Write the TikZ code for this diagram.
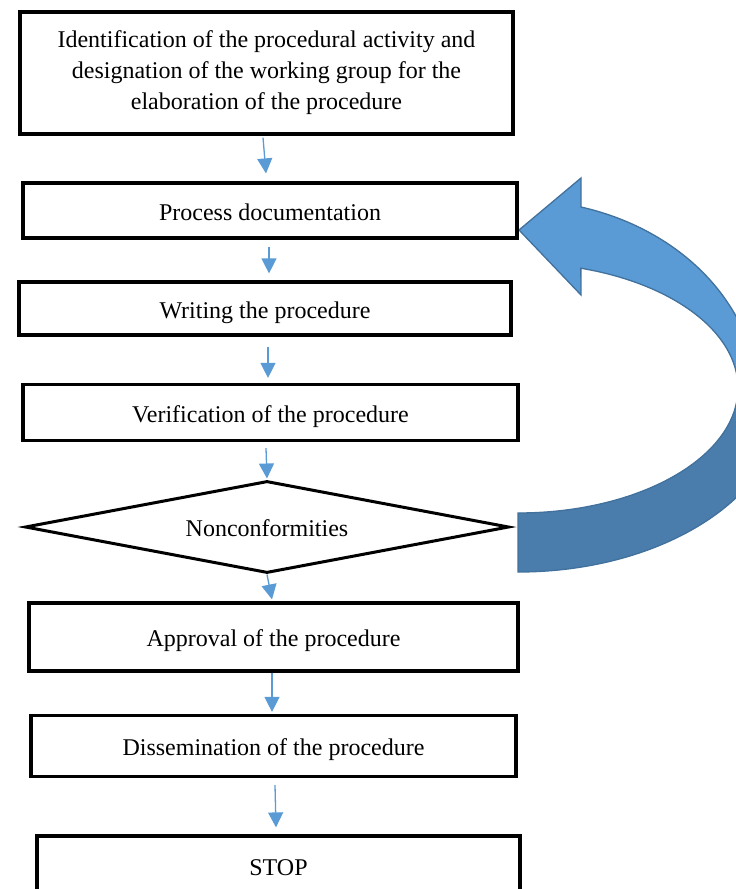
\documentclass[tikz,border=0pt]{standalone}
\usepackage{fontspec}
\setmainfont{Liberation Serif}
\usetikzlibrary{arrows.meta,shapes.geometric,calc}
\definecolor{flowblue}{HTML}{5B9BD5}
\definecolor{bigdark}{HTML}{4A7DAC}
\definecolor{bigline}{HTML}{41719C}
\begin{document}
\begin{tikzpicture}[x=1pt,y=-1pt,
  box/.style={draw=black, line width=3.2pt, inner sep=0pt, align=center,
    font=\fontsize{24}{31}\selectfont},
  onebox/.style={box, text height=19pt, text depth=0pt},
  decision/.style={diamond, draw=black, line width=3pt, inner sep=0pt, aspect=5.3,
    text height=19pt, text depth=0pt, font=\fontsize{24}{31}\selectfont},
  flow/.style={draw=flowblue, line width=1.3pt, -{Triangle[width=15pt,length=15pt]}},
  bigarrow/.style={draw=bigline, line width=1.3pt},
]
\path[use as bounding box, clip] (0,0) rectangle (736,889);

% big return arrow
\fill[bigarrow, fill=bigdark]
  (738,388) -- (783,400)
  arc[start angle=0, end angle=-90, x radius=265pt, y radius=172pt]
  -- (518,513)
  arc[start angle=-90, end angle=0, x radius=220pt, y radius=125pt]
  -- cycle;
\fill[bigarrow, fill=flowblue]
  (519,230) -- (581,178) -- (581,207)
  arc[start angle=74.8, end angle=0, x radius=240pt, y radius=200pt]
  -- (738,388)
  arc[start angle=0, end angle=73.4, x radius=220pt, y radius=125pt]
  -- (581,295) -- cycle;

% boxes
\node[box, minimum width=493pt, minimum height=122pt] (b1) at (266.5,73)
  {Identification of the procedural activity and\\designation of the working group for the\\elaboration of the procedure};
\node[onebox, minimum width=494pt, minimum height=55pt] (b2) at (270,210.5) {Process documentation};
\node[onebox, minimum width=492pt, minimum height=53pt] (b3) at (265,308.5) {Writing the procedure};
\node[onebox, minimum width=495pt, minimum height=56pt] (b4) at (270.5,412.5) {Verification of the procedure};
\node[decision, minimum width=484pt, minimum height=92pt] (dia) at (267,527) {Nonconformities};
\node[onebox, minimum width=489pt, minimum height=68pt] (b6) at (273.5,637) {Approval of the procedure};
\node[onebox, minimum width=485pt, minimum height=61pt] (b7) at (273.5,746) {Dissemination of the procedure};
\node[onebox, minimum width=483pt, minimum height=60pt] (b8) at (278.5,866) {STOP};

% connectors
\draw[flow] ([shift={(-3.5pt,-2pt)}]b1.south) -- ([shift={(-4pt,8pt)}]b2.north);
\draw[flow] ([shift={(-1pt,-7pt)}]b2.south) -- ([shift={(4pt,7pt)}]b3.north);
\draw[flow] ([shift={(3pt,-10pt)}]b3.south) -- ([shift={(-2.5pt,5pt)}]b4.north);
\draw[flow] ([shift={(-4.5pt,-6pt)}]b4.south) -- ([shift={(0pt,1pt)}]dia.north);
\draw[flow] (dia.south) -- ([shift={(-1.5pt,2pt)}]b6.north);
\draw[flow] ([shift={(-1.5pt,0pt)}]b6.south) -- ([shift={(-1.5pt,2pt)}]b7.north);
\draw[flow] ([shift={(1.5pt,-7pt)}]b7.south) -- ([shift={(-2.5pt,7pt)}]b8.north);
\end{tikzpicture}
\end{document}
